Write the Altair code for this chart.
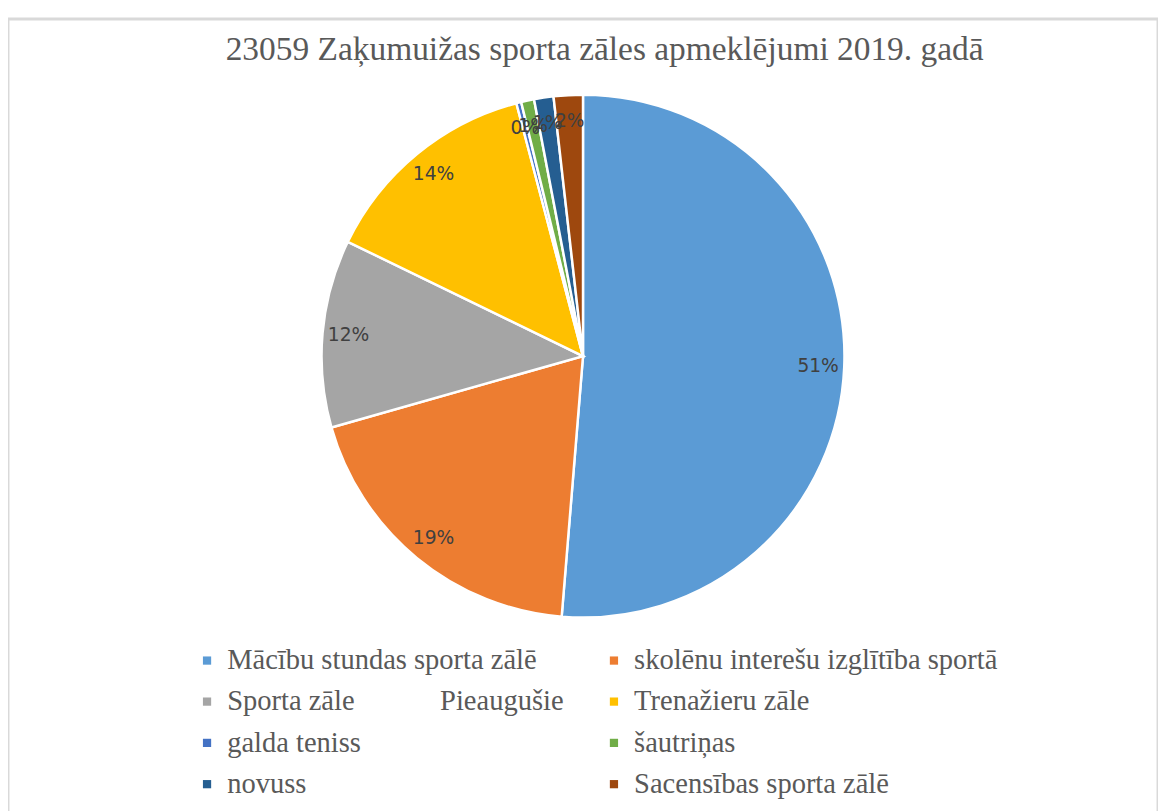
import altair as alt
import pandas as pd

NB = "\u00a0"
categories = [
    " Mācību stundas sporta zālē",
    "skolēnu interešu izglītība sportā",
    "Sporta zāle" + NB * 12 + "Pieaugušie",
    "Trenažieru zāle",
    "galda teniss",
    "šautriņas",
    "novuss",
    "Sacensības sporta zālē",
]
values = [51.3, 19.3, 11.6, 13.7, 0.3, 0.8, 1.2, 1.8]
labels = ["51%", "19%", "12%", "14%", "0%", "1%", "1%", "2%"]
colors = ["#5B9BD5", "#ED7D31", "#A5A5A5", "#FFC000", "#4472C4", "#70AD47", "#255E91", "#9E480E"]
title_text = "23059 Zaķumuižas sporta zāles apmeklējumi 2019. gadā"

df = pd.DataFrame({
    "cat": categories,
    "val": values,
    "lab": labels,
    "ord": list(range(len(categories))),
})

CX, CY, R = 585, 343, 266

color = alt.Color(
    "cat:N",
    scale=alt.Scale(domain=categories, range=colors),
    sort=categories,
    legend=alt.Legend(
        title=None,
        orient="none",
        legendX=188,
        legendY=638,
        columns=2,
        direction="horizontal",
        columnPadding=36,
        rowPadding=12,
        symbolType="square",
        symbolSize=70,
        symbolStrokeWidth=0,
        labelFont="Liberation Serif",
        labelFontSize=29,
        labelColor="#595959",
        labelOffset=6,
        labelLimit=700,
    ),
)

base = alt.Chart(df).encode(
    theta=alt.Theta("val:Q", stack=True),
    order=alt.Order("ord:Q"),
)

pie = base.mark_arc(radius=R, stroke="white", strokeWidth=2.5).encode(
    color=color,
    x=alt.value(CX),
    y=alt.value(CY),
)

text = base.mark_text(
    radius=R * 0.9,
    font="DejaVu Sans",
    fontSize=19,
    color="#404040",
).encode(
    text="lab:N",
    x=alt.value(CX),
    y=alt.value(CY),
)

title = alt.Chart(pd.DataFrame({"t": [title_text]})).mark_text(
    font="Liberation Serif",
    fontSize=34,
    color="#595959",
).encode(
    text="t:N",
    x=alt.value(CX + 22),
    y=alt.value(32),
)

chart = alt.layer(pie, text, title).properties(
    width=1170,
    height=820,
    autosize=alt.AutoSizeParams(type="none"),
    padding={"left": 0, "top": 4, "right": 0, "bottom": 0},
).configure_view(
    stroke="#d9d9d9",
    strokeWidth=3,
)

chart.save("out.html", embed_options={"renderer": "svg", "actions": False})
